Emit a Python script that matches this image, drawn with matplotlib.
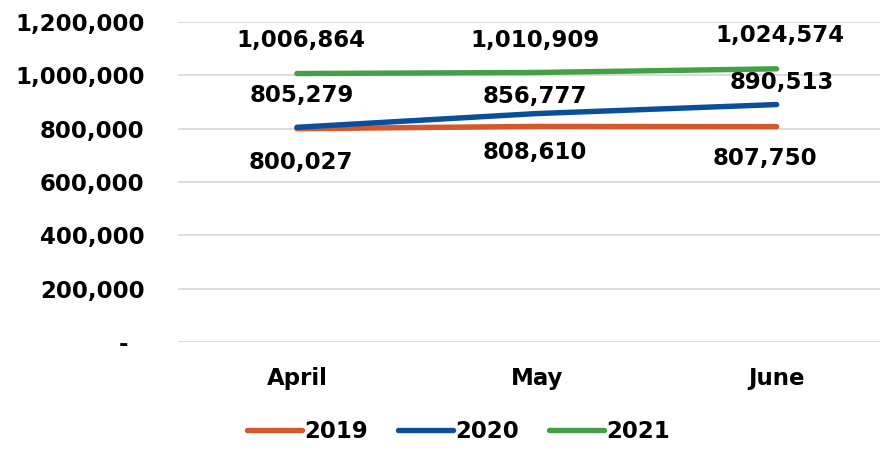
import matplotlib.pyplot as plt
from matplotlib.ticker import FuncFormatter

months = ["April", "May", "June"]
years = ["2019", "2020", "2021"]
sales_2019 = [800027, 808610, 807750]
sales_2020 = [805279, 856777, 890513]
sales_2021 = [1006864, 1010909, 1024574]
yticks = [0, 200000, 400000, 600000, 800000, 1000000, 1200000]

colors = ["#D4582A", "#0B4F9C", "#43A047"]
# data label offsets in pixels (dx, dy; dy positive = up), hand-placed like the original
label_offsets = [
    [(4, -34), (-2, -26), (-12, -32)],
    [(5, 32), (-2, 17), (5, 22)],
    [(4, 33), (-2, 32), (3, 33)],
]

plt.rcParams["font.family"] = ["DejaVu Sans"]
plt.rcParams["font.weight"] = "bold"

fig = plt.figure(figsize=(8.82, 4.5), dpi=100)
ax = fig.add_axes([0.2018, 0.24, 0.7959, 0.711])

x = list(range(len(months)))
series = [sales_2019, sales_2020, sales_2021]
for name, vals, col, offs in zip(years, series, colors, label_offsets):
    ax.plot(x, vals, color=col, lw=3.9, solid_capstyle="round", label=name, zorder=3)
    for xi, v, (dx, dy) in zip(x, vals, offs):
        ax.annotate(f"{v:,}", (xi, v), xytext=(dx * 0.72, dy * 0.72), textcoords="offset points",
                    ha="center", va="center", fontsize=16.5, fontweight="bold", zorder=4)

ax.set_xlim(-0.496, 2.431)
ax.set_ylim(0, 1200000)
ax.set_yticks(yticks)
ax.yaxis.set_major_formatter(FuncFormatter(lambda v, p: "-  " if v == 0 else f"{int(v):,}"))
ax.set_xticks(x)
ax.set_xticklabels(months)
ax.grid(axis="y", color="#D9D9D9", lw=1.3)
ax.set_axisbelow(True)
for s in ax.spines.values():
    s.set_visible(False)
ax.tick_params(axis="y", length=0, pad=24, labelsize=16.5)
ax.tick_params(axis="x", length=0, pad=18, labelsize=16.5)

fig.legend(loc="lower center", bbox_to_anchor=(0.52, -0.03), ncol=3, frameon=False,
           fontsize=16.5, handlelength=2.4, handletextpad=0.1, columnspacing=1.3)

fig.savefig("out.png", dpi=100)
